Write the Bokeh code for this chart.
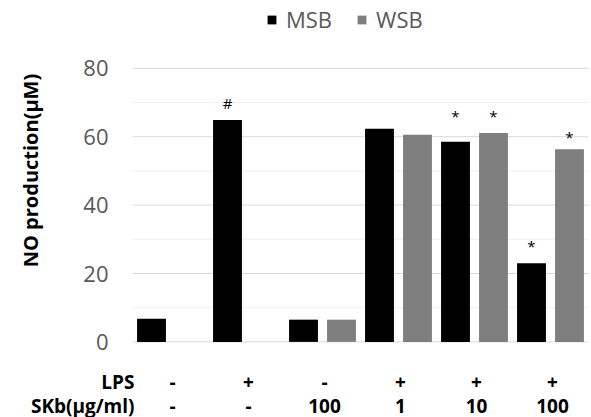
import math
from bokeh.plotting import figure
from bokeh.models import ColumnDataSource, Range1d, Legend, LegendItem
from bokeh.core.properties import value
from bokeh.embed import file_html
from bokeh.resources import INLINE

# ---- data ----
groups = [0, 1, 2, 3, 4, 5]
lps_row = ["-", "+", "-", "+", "+", "+"]
skb_row = ["-", "-", "100", "1", "10", "100"]
msb_values = [6.8, 64.9, 6.5, 62.3, 58.5, 23.0]
wsb_groups = [2, 3, 4, 5]
wsb_values = [6.5, 60.6, 61.1, 56.3]
major_ticks = [0, 20, 40, 60, 80]
minor_ticks = [10, 30, 50, 70]
ann_groups = [1, 4, 4, 5, 5]
ann_series = ["MSB", "MSB", "WSB", "MSB", "WSB"]
ann_text = ["#", "*", "*", "*", "*"]
ann_y = [70.0, 66.0, 66.0, 28.0, 60.0]
y_title = "NO production(μM)"
row_titles = ["LPS", "SKb(μg/ml)"]

# ---- layout (pixels) ----
W, H = 591, 417
PX_LEFT, GROUP_PX = 132.0, 76.0        # plot area left edge, px per group
PY_ZERO, PX_PER_UNIT = 341.4, 3.42     # y=0 position, px per unit
OFF = {"MSB": -0.25, "WSB": 0.25}
FONT = "Open Sans"
GRAY_TXT = "#595959"

def dx(px):   # page x pixel -> data x
    return (px - PX_LEFT) / GROUP_PX - 0.5

def dy(py):   # page y pixel (from top) -> data y
    return (PY_ZERO - py) / PX_PER_UNIT

p = figure(width=W, height=H, output_backend="svg", toolbar_location=None,
           x_range=Range1d(dx(0), dx(W)), y_range=Range1d(dy(H), dy(0)),
           min_border=0)
p.outline_line_color = None
p.axis.visible = False
p.grid.visible = False
p.background_fill_color = "white"

# gridlines
p.segment(x0=-0.5, x1=5.5, y0=minor_ticks, y1=minor_ticks, line_color="#f0f0f0", line_width=1)
p.segment(x0=-0.5, x1=5.5, y0=major_ticks, y1=major_ticks, line_color="#d9d9d9", line_width=1)

# bars
src_m = ColumnDataSource(dict(x=[g + OFF["MSB"] for g in groups], top=msb_values))
src_w = ColumnDataSource(dict(x=[g + OFF["WSB"] for g in wsb_groups], top=wsb_values))
r_m = p.vbar(x="x", top="top", width=0.38, source=src_m, fill_color="black", line_color=None)
r_w = p.vbar(x="x", top="top", width=0.38, source=src_w, fill_color="#7f7f7f", line_color=None)

# y tick labels
p.text(x=dx(108), y=major_ticks, text=[str(t) for t in major_ticks],
       text_align="right", text_baseline="middle",
       text_font=value(FONT), text_font_size="22px", text_color=GRAY_TXT)

# y title
p.text(x=[dx(30)], y=[dy(170)], text=[y_title], angle=math.pi / 2,
       text_align="center", text_baseline="middle",
       text_font=value(FONT), text_font_style="bold", text_font_size="20px",
       text_color="black")

# significance marks
p.text(x=[g + OFF[s] for g, s in zip(ann_groups, ann_series)], y=ann_y, text=ann_text,
       text_align="center", text_baseline="middle",
       text_font=value(FONT), text_font_size="15px", text_color="black")

# bottom condition table
for row, py in ((lps_row, 381), (skb_row, 405)):
    p.text(x=[g + 2 / GROUP_PX for g in groups], y=[dy(py)] * len(groups), text=row,
           text_align="center", text_baseline="middle",
           text_font=value(FONT), text_font_style="bold", text_font_size="19px",
           text_color="black")
p.text(x=[dx(134)] * 2, y=[dy(381), dy(405)], text=row_titles,
       text_align="right", text_baseline="middle",
       text_font=value(FONT), text_font_style="bold", text_font_size="19px",
       text_color="black")

# legend
legend = Legend(items=[LegendItem(label="MSB", renderers=[r_m]),
                       LegendItem(label="WSB", renderers=[r_w])],
                orientation="horizontal", location=(266, H - 34),
                glyph_width=11, glyph_height=11, label_standoff=9, spacing=24,
                padding=0, margin=0, border_line_color=None,
                background_fill_alpha=0,
                label_text_font=FONT, label_text_font_size="22px",
                label_text_color=GRAY_TXT)
p.add_layout(legend, "center")

open("out.html", "w").write(file_html(p, INLINE))
